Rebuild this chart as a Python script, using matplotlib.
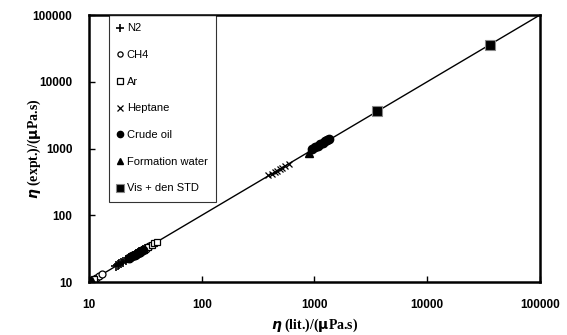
import numpy as np
import matplotlib.pyplot as plt

# viscosity data, literature vs measured (uPa.s)
n2_lit = [17.5, 18.0, 18.6, 19.2, 20.0, 21.5, 22.5, 23.2, 24.0, 24.8, 25.5, 26.3, 27.0, 27.8, 28.5, 29.3, 30.0, 31.5]
n2_exp = [17.6, 18.1, 18.4, 19.4, 19.8, 21.7, 22.7, 23.0, 23.8, 25.0, 25.7, 26.1, 26.8, 28.0, 28.7, 29.1, 29.8, 31.7]
ch4_lit = [10.4, 10.8, 11.2, 11.6, 12.2, 13.0, 23.0, 26.0, 29.0, 32.0, 34.0]
ch4_exp = [10.5, 10.7, 11.3, 11.5, 12.3, 13.1, 23.2, 25.8, 29.2, 31.8, 34.3]
ar_lit = [10.6, 11.1, 22.0, 24.5, 27.5, 30.5, 33.5, 36.0, 38.0, 40.0]
ar_exp = [10.7, 11.0, 22.2, 24.3, 27.7, 30.3, 33.7, 35.8, 38.3, 39.7]
hep_lit = [390, 420, 445, 470, 495, 520, 550, 590]
hep_exp = [395, 415, 450, 465, 500, 515, 555, 585]
crude_lit = [960, 1020, 1080, 1130, 1180, 1240, 1300, 1360, 22.5, 24.0, 25.5, 27.0, 28.5, 30.0]
crude_exp = [1000, 1060, 1110, 1160, 1210, 1280, 1340, 1390, 22.8, 24.3, 25.2, 27.3, 28.2, 30.3]
water_lit = [890, 10.2, 10.6]
water_exp = [860, 10.3, 10.5]
std_lit = [3600, 36500]
std_exp = [3650, 36000]

plt.rcParams['font.family'] = ['Liberation Sans', 'DejaVu Sans']

fig = plt.figure(figsize=(5.67, 3.35), dpi=100)
ax = fig.add_axes([0.157, 0.158, 0.795, 0.797])

ax.plot([10, 100000], [10, 100000], color='black', lw=1.0, zorder=1)

ms = 5
ax.plot(n2_lit, n2_exp, '+', color='black', ms=ms + 2, mew=1.2, label='N2')
ax.plot(ch4_lit, ch4_exp, 'o', mfc='white', mec='black', ms=ms, mew=0.9, label='CH4')
ax.plot(ar_lit, ar_exp, 's', mfc='white', mec='black', ms=ms, mew=0.9, label='Ar')
ax.plot(hep_lit, hep_exp, 'x', color='black', ms=ms, mew=0.9, label='Heptane')
ax.plot(crude_lit, crude_exp, 'o', color='black', ms=ms + 1, label='Crude oil')
ax.plot(water_lit, water_exp, '^', color='black', ms=ms + 1, label='Formation water')
ax.plot(std_lit, std_exp, 's', mfc='black', mec='#888888', ms=ms + 2, mew=0.8, label='Vis + den STD')

ax.set_xscale('log')
ax.set_yscale('log')
ax.set_xlim(10, 100000)
ax.set_ylim(10, 100000)
ticks = [10, 100, 1000, 10000, 100000]
ax.set_xticks(ticks)
ax.set_yticks(ticks)
ax.set_xticklabels([str(t) for t in ticks])
ax.set_yticklabels([str(t) for t in ticks])
ax.minorticks_off()
ax.tick_params(direction='in', length=4, width=1, pad=12, labelsize=8.5)
for lab in ax.get_xticklabels() + ax.get_yticklabels():
    lab.set_fontweight('bold')
for s in ax.spines.values():
    s.set_linewidth(1.8)

ax.set_xlabel(r'$\boldsymbol{\eta}$ (lit.)/($\mathbf{\mu}$Pa.s)', family='Liberation Serif',
              fontsize=10, fontweight='bold', labelpad=4)
ax.set_ylabel(r'$\boldsymbol{\eta}$ (expt.)/($\mathbf{\mu}$Pa.s)', family='Liberation Serif',
              fontsize=10, fontweight='bold')
ax.yaxis.set_label_coords(-0.102, 0.5)

leg = ax.legend(loc='upper left', bbox_to_anchor=(0.044, 1.0), borderaxespad=0, fontsize=8,
                frameon=True, fancybox=False, edgecolor='black', labelspacing=1.5,
                handlelength=0.5, handletextpad=0.35, borderpad=0.75, markerscale=0.75)
leg.get_frame().set_linewidth(0.8)

fig.savefig('out.png', dpi=100)
